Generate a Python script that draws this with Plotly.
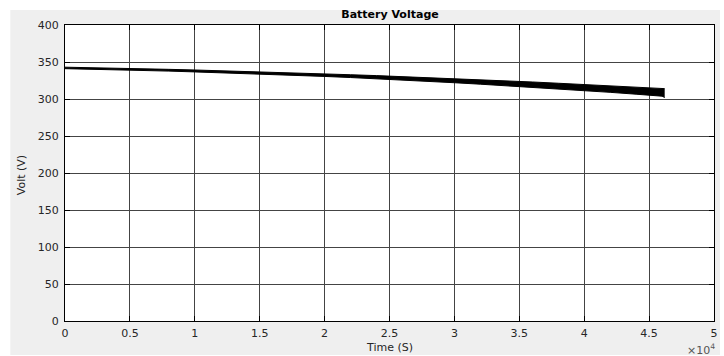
import plotly.graph_objects as go

# Data (envelope of the oscillating battery voltage)
time_s = [0, 2000, 4000, 6000, 8000, 10000, 12000, 14000, 16000, 18000, 20000,
          22000, 24000, 26000, 28000, 30000, 32000, 34000, 36000, 38000, 40000,
          42000, 44000, 46000, 46200]
volt_upper = [343.0, 342.5, 341.8, 341.0, 340.1, 339.2, 338.3, 337.3, 336.2, 335.1, 334.0,
              332.8, 331.6, 330.3, 329.0, 327.6, 326.1, 324.6, 323.0, 321.3, 319.6,
              317.9, 316.1, 314.2, 314.0]
volt_lower = [341.0, 340.4, 339.6, 338.7, 337.7, 336.6, 335.5, 334.4, 333.2, 331.9, 330.5,
              329.0, 327.4, 325.7, 323.9, 322.0, 320.0, 318.0, 315.9, 313.7, 311.4,
              309.0, 306.5, 303.8, 302.0]

x_tickvals = [0, 5000, 10000, 15000, 20000, 25000, 30000, 35000, 40000, 45000, 50000]
x_ticktext = ["0", "0.5", "1", "1.5", "2", "2.5", "3", "3.5", "4", "4.5", "5"]
y_tickvals = [0, 50, 100, 150, 200, 250, 300, 350, 400]

FONT = "DejaVu Sans, Liberation Sans, Arial, sans-serif"
TXT = "#262626"
GRID = "#444444"

fig = go.Figure()
fig.add_trace(go.Scatter(x=time_s, y=volt_upper, mode="lines",
                         line=dict(color="black", width=1), showlegend=False,
                         hoverinfo="skip"))
fig.add_trace(go.Scatter(x=time_s, y=volt_lower, mode="lines",
                         line=dict(color="black", width=1), fill="tonexty",
                         fillcolor="black", showlegend=False, hoverinfo="skip"))

# light grey figure frame (MATLAB style) with thin white border
L, R, T, B = 65, 6, 25, 35
W, H = 724, 356
pw, ph = W - L - R, H - T - B
def px(xp):
    return (xp - L) / pw
def py(yp):
    return (H - B - yp) / ph

gray = "#efefef"
shapes = []
for (x0, y0, x1, y1) in [
    (10, 10, 724, T),          # top strip
    (10, H - B, 724, 355),     # bottom strip
    (10, T, L, H - B),         # left strip
    (W - R, T, 724, H - B),    # right strip
]:
    shapes.append(dict(type="rect", xref="paper", yref="paper",
                       x0=px(x0), x1=px(x1), y0=py(y1), y1=py(y0),
                       fillcolor=gray, line=dict(width=0), layer="below"))

fig.update_layout(
    width=W, height=H,
    margin=dict(l=L, r=R, t=T, b=B),
    paper_bgcolor="white", plot_bgcolor="white",
    shapes=shapes,
    font=dict(family=FONT, size=11, color=TXT),
    title=dict(text="<b>Battery Voltage</b>", x=(392 - L) / pw, xref="paper",
               xanchor="center", y=1 - 14 / H, yanchor="middle",
               font=dict(size=11, color="black")),
    annotations=[
        dict(text="Time (S)", xref="paper", yref="paper", x=0.5, y=py(347),
             xanchor="center", yanchor="middle", showarrow=False,
             font=dict(size=11, color=TXT)),
        dict(text="Volt (V)", xref="paper", yref="paper", x=px(21), y=py(175),
             xanchor="center", yanchor="middle", textangle=-90, showarrow=False,
             font=dict(size=11, color=TXT)),
        dict(text="×10<sup>4</sup>", xref="paper", yref="paper", x=px(721), y=py(349),
             xanchor="right", yanchor="middle", showarrow=False,
             font=dict(size=11, color="#555555")),
    ],
)
fig.update_xaxes(range=[0, 50000], tickvals=x_tickvals, ticktext=x_ticktext,
                 showgrid=True, gridcolor=GRID, gridwidth=1,
                 showline=True, linecolor="black", linewidth=1, mirror="ticks",
                 ticks="inside", ticklen=5, tickcolor="black", ticklabelstandoff=2,
                 zeroline=False, tickfont=dict(size=11, color=TXT))
fig.update_yaxes(range=[0, 400], tickvals=y_tickvals,
                 showgrid=True, gridcolor=GRID, gridwidth=1,
                 showline=True, linecolor="black", linewidth=1, mirror="ticks",
                 ticks="inside", ticklen=5, tickcolor="black", ticklabelstandoff=3,
                 zeroline=False, tickfont=dict(size=11, color=TXT))

fig.write_html("out.html")
